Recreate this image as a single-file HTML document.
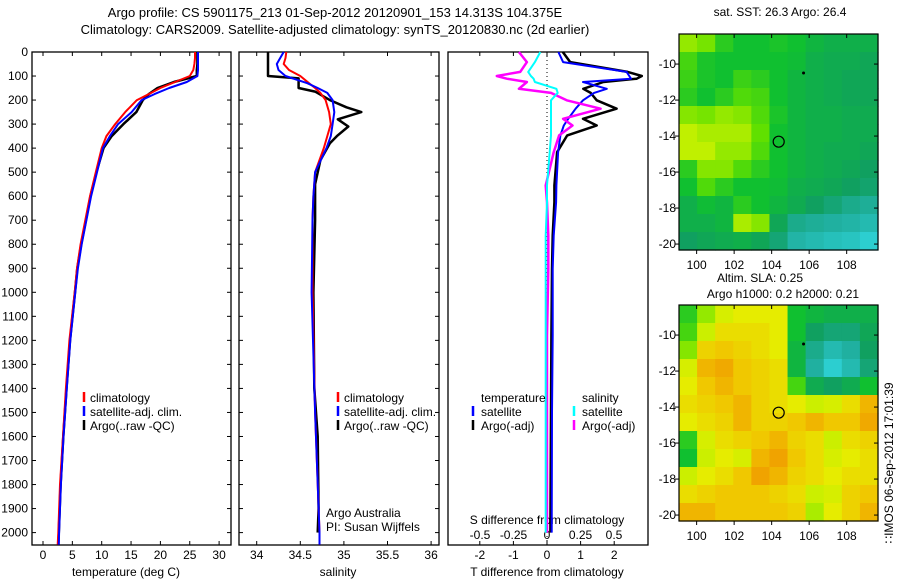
<!DOCTYPE html>
<html><head><meta charset="utf-8">
<style>
html,body{margin:0;padding:0;background:#fff;}
svg{display:block;font-family:"Liberation Sans",Arial,sans-serif;}
</style></head>
<body>
<svg id="chart" width="900" height="580" viewBox="0 0 900 580"></svg>
<script>
// ---------- data ----------
const depthsT = [0,25,50,75,100,125,150,175,200,250,300,350,400,500,600,700,800,900,1000,1200,1400,1600,1800,2000,2050];
const tempClim = [25.9,25.9,25.8,25.6,25.0,22.5,20.0,18.0,16.0,14.0,12.3,10.8,10.0,9.0,8.0,7.2,6.4,5.8,5.4,4.5,3.9,3.4,2.9,2.6,2.5];
const tempSat  = [26.4,26.4,26.4,26.4,26.3,24.5,21.5,19.0,16.8,15.1,12.8,11.4,10.2,9.2,8.2,7.4,6.6,5.95,5.5,4.65,4.05,3.5,3.05,2.75,2.7];
const tempArgo = [26.3,26.3,26.3,26.2,26.2,22.3,19.5,18.0,17.0,15.9,13.7,11.7,10.3,9.1,8.1,7.3,6.5,5.85,5.45,4.6,4.0,3.45,3.0,2.7,2.6];

const depthsS = [0,25,50,75,100,130,150,170,200,250,300,350,400,500,600,700,1000,1500,2000,2050];
const salClim = [34.34,34.33,34.31,34.37,34.5,34.6,34.67,34.73,34.79,34.83,34.85,34.81,34.77,34.67,34.65,34.64,34.64,34.67,34.72,34.72];
const salSat  = [34.31,34.27,34.23,34.25,34.33,34.58,34.7,34.81,34.87,34.89,34.87,34.85,34.8,34.67,34.65,34.64,34.63,34.67,34.72,34.72];
const depthsSA = [0,50,100,110,150,165,200,230,250,280,310,350,380,450,550,700,1000,1400,1600,1900,2000];
const salArgo = [34.13,34.13,34.13,34.48,34.48,34.67,34.84,35.03,35.2,34.93,35.05,34.92,34.84,34.73,34.67,34.67,34.65,34.66,34.7,34.71,34.7];

const depthsD = [0,42,83,100,111,125,153,170,201,236,278,306,347,417,555,625,764,903,1180,1500,2000];
const dTsat  = [0.34,0.48,2.37,2.45,2.5,1.07,1.78,1.4,1.07,0.85,0.63,0.5,0.4,0.33,0.28,0.27,0.2,0.17,0.17,0.15,0.14];
const dTargo = [0.47,0.69,2.4,2.82,2.67,1.68,1.08,1.3,1.48,2.07,1.07,1.48,0.6,0.3,0.22,0.22,0.17,0.15,0.13,0.12,0.1];
const dSsat  = [-0.05,-0.09,-0.14,-0.12,-0.1,-0.09,0.07,0.08,0.03,0.03,0.03,0.03,0.03,0.02,0.0,0.0,-0.01,-0.01,-0.01,-0.01,-0.01];
const dSargo = [-0.21,-0.15,-0.2,-0.375,-0.3,-0.15,-0.21,0.03,0.147,0.4,0.12,0.19,0.09,0.05,-0.01,0.0,0.01,0.01,0.0,0.0,0.0];

const depthTicks = [0,100,200,300,400,500,600,700,800,900,1000,1100,1200,1300,1400,1500,1600,1700,1800,1900,2000];
const tempTicks = [0,5,10,15,20,25,30];
const salTicks = [34,34.5,35,35.5,36];
const tdTicks = [-2,-1,0,1,2];
const sdTicks = [-0.5,-0.25,0,0.25,0.5];
const latTicks = [-10,-12,-14,-16,-18,-20];
const lonTicks = [100,102,104,106,108];

const sstGrid = [
[0.72,0.68,0.55,0.5,0.5,0.52,0.5,0.45,0.42,0.42,0.42],
[0.6,0.52,0.5,0.5,0.5,0.5,0.48,0.42,0.4,0.4,0.38],
[0.58,0.52,0.5,0.58,0.55,0.5,0.45,0.42,0.4,0.38,0.38],
[0.55,0.5,0.55,0.62,0.6,0.5,0.45,0.42,0.4,0.38,0.38],
[0.7,0.68,0.72,0.7,0.62,0.52,0.45,0.42,0.42,0.4,0.4],
[0.78,0.75,0.75,0.75,0.65,0.5,0.45,0.42,0.42,0.4,0.4],
[0.78,0.78,0.72,0.72,0.62,0.5,0.45,0.42,0.4,0.4,0.38],
[0.55,0.7,0.7,0.62,0.55,0.5,0.45,0.42,0.4,0.38,0.35],
[0.5,0.62,0.55,0.5,0.5,0.48,0.42,0.4,0.38,0.35,0.32],
[0.42,0.48,0.45,0.55,0.5,0.45,0.4,0.35,0.3,0.25,0.22],
[0.42,0.42,0.45,0.75,0.7,0.38,0.25,0.22,0.2,0.18,0.15],
[0.35,0.38,0.4,0.42,0.38,0.3,0.18,0.15,0.12,0.1,0.05]];
const slaGrid = [
[0.55,0.72,0.82,0.85,0.85,0.85,0.5,0.45,0.42,0.42,0.42],
[0.6,0.8,0.88,0.88,0.88,0.85,0.5,0.35,0.3,0.3,0.38],
[0.7,0.9,0.92,0.9,0.88,0.85,0.45,0.25,0.15,0.2,0.35],
[0.82,0.95,0.97,0.92,0.9,0.88,0.45,0.2,0.05,0.15,0.3],
[0.85,0.92,0.95,0.92,0.9,0.88,0.6,0.4,0.35,0.4,0.5],
[0.88,0.9,0.92,0.95,0.9,0.88,0.85,0.8,0.82,0.88,0.95],
[0.85,0.88,0.9,0.95,0.9,0.9,0.92,0.95,0.92,0.92,0.97],
[0.55,0.82,0.88,0.9,0.92,0.95,0.9,0.88,0.8,0.88,0.9],
[0.5,0.8,0.85,0.82,0.95,0.98,0.92,0.88,0.82,0.85,0.88],
[0.8,0.85,0.88,0.92,0.98,0.95,0.9,0.88,0.85,0.88,0.88],
[0.88,0.9,0.92,0.92,0.92,0.9,0.88,0.8,0.82,0.9,0.92],
[0.95,0.95,0.92,0.92,0.92,0.92,0.9,0.75,0.85,0.9,0.95]];
const profileLon = 104.375, profileLat = -14.313;
const markLon = 105.7, markLat = -10.5;

// ---------- helpers ----------
const NS = "http://www.w3.org/2000/svg";
const svg = document.getElementById('chart');
function mk(tag, attrs, parent){
  const e = document.createElementNS(NS, tag);
  for (const k in attrs) e.setAttribute(k, attrs[k]);
  (parent||svg).appendChild(e);
  return e;
}
function txt(x,y,s,anchor,size,parent){
  const t = mk('text',{x:x,y:y,'text-anchor':anchor||'start','font-size':size||12,fill:'#000'},parent);
  t.textContent = s;
  return t;
}
const yD = d => 52 + d*0.2403;
const xT = t => 43 + t*5.87;
const xS = s => 256.7 + (s-34)*87.2;
const xTd = v => 547 + v*33.6;
const xSd = v => 547 + v*134;

function panel(x0,x1,name){
  const g = mk('g',{});
  
  
  mk('rect',{x:x0,y:52,width:x1-x0,height:493,fill:'#fff',stroke:'#000','stroke-width':1.3},g);
  return g;
}
function line(g,xs,ds,fx,color,w,name){
  const pts = xs.map((v,i)=>fx(v).toFixed(1)+','+yD(ds[i]).toFixed(1)).join(' ');
  const p = mk('polyline',{points:pts,fill:'none',stroke:color,'stroke-width':w,'stroke-linejoin':'round'},g);
  
  
}
function xticks(g,ticks,fx,labelY){
  ticks.forEach(t=>{
    const x = fx(t);
    mk('line',{x1:x,y1:52,x2:x,y2:56,stroke:'#000'},g);
    mk('line',{x1:x,y1:545,x2:x,y2:541,stroke:'#000'},g);
    if(labelY) txt(x,labelY,String(t),'middle',12,g);
  });
}
function yticks(g,x0,x1){
  depthTicks.forEach(d=>{
    const y = yD(d);
    mk('line',{x1:x0,y1:y,x2:x0+4,y2:y,stroke:'#000'},g);
    mk('line',{x1:x1,y1:y,x2:x1-4,y2:y,stroke:'#000'},g);
  });
}
function legendBar(g,x,y,color){
  mk('line',{x1:x,y1:y-10,x2:x,y2:y,stroke:color,'stroke-width':2.5},g);
}

// ---------- titles ----------
const t1 = txt(335,17,'Argo profile: CS 5901175_213 01-Sep-2012 20120901_153 14.313S 104.375E','middle',13);
 
const t2 = txt(335,34,'Climatology: CARS2009. Satellite-adjusted climatology: synTS_20120830.nc (2d earlier)','middle',13);
 

// ---------- panel 1 temperature ----------
const p1 = panel(32,231,'temperature-panel');
yticks(p1,32,231);
depthTicks.forEach(d=>{ txt(28,yD(d)+4,String(d),'end',12,p1); });
xticks(p1,tempTicks,xT,559);
txt(126,576,'temperature (deg C)','middle',12,p1);
line(p1,tempArgo,depthsT,xT,'#000',2.5,'temp-argo-line');
line(p1,tempClim,depthsT,xT,'#f00',2,'temp-climatology-line');
line(p1,tempSat,depthsT,xT,'#00f',2,'temp-satellite-line');
[['climatology','#f00'],['satellite-adj. clim.','#00f'],['Argo(..raw -QC)','#000']].forEach((l,i)=>{
  legendBar(p1,84,402+i*14,l[1]); txt(90,402+i*14,l[0],'start',12,p1);
});

// ---------- panel 2 salinity ----------
const p2 = panel(239,439,'salinity-panel');
yticks(p2,239,439);
xticks(p2,salTicks,xS,559);
txt(338,576,'salinity','middle',12,p2);
line(p2,salArgo,depthsSA,xS,'#000',2.5,'sal-argo-line');
line(p2,salClim,depthsS,xS,'#f00',2,'sal-climatology-line');
line(p2,salSat,depthsS,xS,'#00f',2,'sal-satellite-line');
[['climatology','#f00'],['satellite-adj. clim.','#00f'],['Argo(..raw -QC)','#000']].forEach((l,i)=>{
  legendBar(p2,338,402+i*14,l[1]); txt(344,402+i*14,l[0],'start',12,p2);
});
txt(326,517,'Argo Australia','start',12,p2);
txt(326,531,'PI: Susan Wijffels','start',12,p2);

// ---------- panel 3 differences ----------
const p3 = panel(448,648,'difference-panel');
mk('line',{x1:547,y1:52,x2:547,y2:545,stroke:'#000','stroke-dasharray':'1,3'},p3);
xticks(p3,tdTicks,xTd,559);
sdTicks.forEach(t=>txt(xSd(t),539,String(t),'middle',12,p3));
txt(547,524,'S difference from climatology','middle',12,p3);
txt(547,576,'T difference from climatology','middle',12,p3);
line(p3,dTargo,depthsD,xTd,'#000',2.5,'tdiff-argo-line');
line(p3,dTsat,depthsD,xTd,'#00f',2,'tdiff-satellite-line');
line(p3,dSargo,depthsD,xSd,'#f0f',2.5,'sdiff-argo-line');
line(p3,dSsat,depthsD,xSd,'#0ff',2,'sdiff-satellite-line');
txt(481,402,'temperature','start',12,p3);
txt(582,402,'salinity','start',12,p3);
legendBar(p3,473,416,'#00f'); txt(481,416,'satellite','start',12,p3);
legendBar(p3,473,430,'#000'); txt(481,430,'Argo(-adj)','start',12,p3);
legendBar(p3,574,416,'#0ff'); txt(582,416,'satellite','start',12,p3);
legendBar(p3,574,430,'#f0f'); txt(582,430,'Argo(-adj)','start',12,p3);

// ---------- maps ----------
const cstops = [[0,[48,216,224]],[0.2,[32,176,160]],[0.35,[16,160,96]],[0.5,[16,192,48]],[0.65,[96,224,0]],[0.78,[192,240,0]],[0.85,[230,236,0]],[0.92,[240,200,0]],[1,[240,150,0]]];
function cmap(v){
  for(let i=1;i<cstops.length;i++){
    if(v<=cstops[i][0]){
      const a=cstops[i-1],b=cstops[i],f=(v-a[0])/(b[0]-a[0]);
      return 'rgb('+a[1].map((c,j)=>Math.round(c+(b[1][j]-c)*f)).join(',')+')';
    }
  }
  return 'rgb(240,150,0)';
}
function map(top, grid, name){
  const g = mk('g',{});
  
  
  const x0=679,x1=878,lon0=99.06,lon1=109.67,lat0=-8.33,lat1=-20.33;
  const bottom = top+216;
  const fx = lon => x0+(lon-lon0)/(lon1-lon0)*(x1-x0);
  const fy = lat => top+(lat0-lat)/(lat0-lat1)*(bottom-top);
  const rows=grid.length, cols=grid[0].length;
  const cw=(x1-x0)/cols, ch=(bottom-top)/rows;
  grid.forEach((row,r)=>row.forEach((v,c)=>{
    const cell = mk('rect',{x:(x0+c*cw).toFixed(2),y:(top+r*ch).toFixed(2),width:(cw+0.6).toFixed(2),height:(ch+0.6).toFixed(2),fill:cmap(v)},g);
    
    
  }));
  mk('rect',{x:x0,y:top,width:x1-x0,height:bottom-top,fill:'none',stroke:'#000','stroke-width':1.2},g);
  latTicks.forEach(l=>{const y=fy(l);
    mk('line',{x1:x0-4,y1:y,x2:x0,y2:y,stroke:'#000'},g);
    mk('line',{x1:x1,y1:y,x2:x1-4,y2:y,stroke:'#000'},g);
    txt(676,y+4,String(l),'end',12,g);});
  lonTicks.forEach(l=>{const x=fx(l);
    mk('line',{x1:x,y1:top,x2:x,y2:top+4,stroke:'#000'},g);
    mk('line',{x1:x,y1:bottom,x2:x,y2:bottom+4,stroke:'#000'},g);
    txt(x,bottom+19,String(l),'middle',12,g);});
  const c = mk('circle',{cx:fx(profileLon),cy:fy(profileLat),r:5.5,fill:'none',stroke:'#000','stroke-width':1.2},g);
   
  mk('circle',{cx:fx(markLon),cy:fy(markLat),r:1.5,fill:'#000'},g);
}
map(34,sstGrid,'sst-map');
map(305,slaGrid,'sla-map');
const m1 = txt(780,16,'sat. SST: 26.3 Argo: 26.4','middle',12);  
const m2 = txt(760,282,'Altim. SLA: 0.25','middle',12);  
const m3 = txt(783,298,'Argo h1000: 0.2 h2000: 0.21','middle',12);  
const ts = txt(0,0,'\u2237IMOS 06-Sep-2012 17:01:39','middle',12);
ts.setAttribute('transform','translate(893,463) rotate(-90)');
 
</script>
</body></html>
